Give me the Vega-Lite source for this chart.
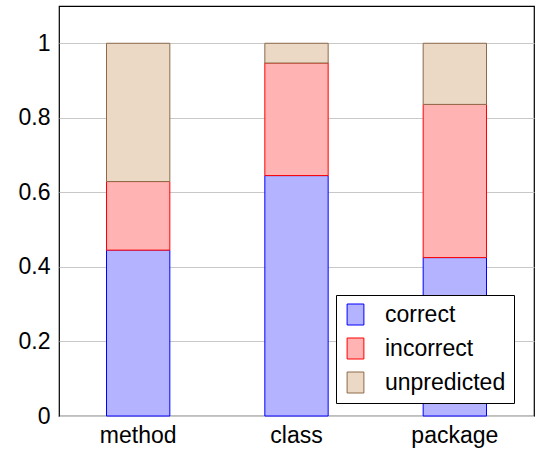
{
  "$schema": "https://vega.github.io/schema/vega-lite/v6.json",
  "autosize": "none",
  "padding": {"left": 59, "top": 6, "right": 2, "bottom": 38},
  "width": 475,
  "height": 410,
  "background": "white",
  "config": {
    "view": {"stroke": "black", "strokeWidth": 1.2}
  },
  "data": {
    "values": [
      {"level": "method", "outcome": "correct", "share": 0.445},
      {"level": "method", "outcome": "incorrect", "share": 0.184},
      {"level": "method", "outcome": "unpredicted", "share": 0.371},
      {"level": "class", "outcome": "correct", "share": 0.645},
      {"level": "class", "outcome": "incorrect", "share": 0.302},
      {"level": "class", "outcome": "unpredicted", "share": 0.053},
      {"level": "package", "outcome": "correct", "share": 0.425},
      {"level": "package", "outcome": "incorrect", "share": 0.411},
      {"level": "package", "outcome": "unpredicted", "share": 0.164}
    ]
  },
  "mark": {"type": "bar", "strokeWidth": 1, "width": {"band": 0.4}},
  "encoding": {
    "x": {
      "field": "level",
      "type": "nominal",
      "sort": ["method", "class", "package"],
      "scale": {"paddingInner": 0, "paddingOuter": 0},
      "axis": {
        "title": null,
        "labelAngle": 0,
        "labelFontSize": 23,
        "labelColor": "black",
        "labelPadding": 8,
        "ticks": false,
        "domain": false
      }
    },
    "y": {
      "field": "share",
      "type": "quantitative",
      "stack": "zero",
      "scale": {"domain": [0, 1.1], "nice": false},
      "axis": {
        "title": null,
        "values": [0, 0.2, 0.4, 0.6, 0.8, 1],
        "labelExpr": "datum.value == 0 ? '0' : datum.value == 1 ? '1' : format(datum.value, '.1f')",
        "labelFontSize": 23,
        "labelColor": "black",
        "labelPadding": 9,
        "grid": true,
        "gridColor": "#c8c8c8",
        "gridWidth": 1,
        "ticks": false,
        "domain": false
      }
    },
    "order": {"field": "outcome", "type": "nominal", "sort": "ascending"},
    "fill": {
      "field": "outcome",
      "type": "nominal",
      "scale": {
        "domain": ["correct", "incorrect", "unpredicted"],
        "range": ["#b3b3ff", "#ffb3b3", "#ebd9c6"]
      },
      "legend": {
        "title": null,
        "orient": "none",
        "legendX": 277,
        "legendY": 289,
        "fillColor": "white",
        "strokeColor": "black",
        "padding": 8,
        "symbolType": "M-0.8,-1H0.8V1H-0.8Z",
        "symbolSize": 441,
        "symbolStrokeWidth": 1,
        "symbolOffset": 0,
        "labelFontSize": 23,
        "labelColor": "black",
        "labelOffset": 18,
        "rowPadding": 9
      }
    },
    "stroke": {
      "field": "outcome",
      "type": "nominal",
      "scale": {
        "domain": ["correct", "incorrect", "unpredicted"],
        "range": ["#0000ff", "#ff0000", "#8c6a48"]
      },
      "legend": {
        "title": null,
        "orient": "none",
        "legendX": 277,
        "legendY": 289,
        "fillColor": "white",
        "strokeColor": "black",
        "padding": 8,
        "symbolType": "M-0.8,-1H0.8V1H-0.8Z",
        "symbolSize": 441,
        "symbolStrokeWidth": 1,
        "symbolOffset": 0,
        "labelFontSize": 23,
        "labelColor": "black",
        "labelOffset": 18,
        "rowPadding": 9
      }
    }
  }
}
